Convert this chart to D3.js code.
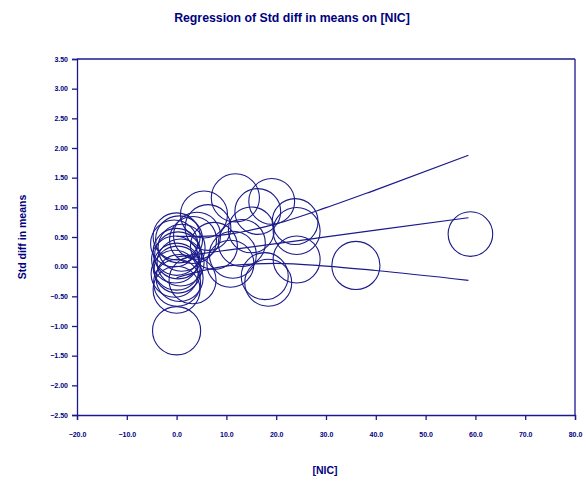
<!DOCTYPE html>
<html><head><meta charset="utf-8">
<script src="https://cdn.jsdelivr.net/npm/d3@7"></script>
<style>body{margin:0;background:#fff}svg{display:block}text{font-family:"Liberation Sans",Arial,sans-serif;font-weight:bold;fill:#000080}</style>
</head><body>
<script>
// studies: NIC (x), Std diff in means (y), relative weight
const nic    = [0, 0.5, -0.5, 1, 0, 0.3, -0.3, 0.8, 0, 0.2, -0.4, 0.6, 0.1, 0, 3.2, 4.1, 5.5, 6.3, 3.3, 0, 11.8, 19.1, 16.3, 13.1, 11.3, 10.8, 17.7, 18.4, 23.8, 24.1, 24.1, 36.0, 59.0, 15.0, 7.5];
const smd    = [0.51, 0.46, 0.39, 0.32, 0.25, 0.19, 0.12, 0.07, 0.00, -0.05, -0.12, -0.19, -0.27, -0.39, -0.23, 0.52, 0.88, 0.66, 0.45, -1.08, 1.16, 1.10, 0.93, 0.40, 0.20, 0.05, -0.16, -0.27, 0.76, 0.60, 0.12, 0.02, 0.55, 0.62, 0.35];
const weight = [1.0, 1.0, 1.0, 1.0, 1.0, 1.0, 1.0, 1.0, 1.0, 1.0, 1.0, 1.0, 1.0, 1.0, 1.0, 1.0, 1.0, 0.95, 1.0, 1.05, 1.05, 0.95, 0.95, 1.0, 1.0, 1.0, 1.0, 1.0, 0.95, 1.0, 1.0, 1.05, 0.9, 0.95, 1.0];
// regression line and 95% limits
const lineX  = [0, 5, 10.6, 20, 30, 40, 58.6];
const predY  = [0.163, 0.220, 0.283, 0.389, 0.502, 0.615, 0.825];
const upperY = [0.512, 0.511, 0.549, 0.722, 0.994, 1.295, 1.878];
const lowerY = [-0.186, -0.072, 0.017, 0.056, 0.010, -0.065, -0.230];
const xTicks = [-20, -10, 0, 10, 20, 30, 40, 50, 60, 70, 80];
const yTicks = [-2.5, -2.0, -1.5, -1.0, -0.5, 0, 0.5, 1.0, 1.5, 2.0, 2.5, 3.0, 3.5];

const W = 586, H = 482, L = 77, R = 575, T = 59, B = 415;
const col = "#1a1a8a";
const svg = d3.select("body").append("svg").attr("width", W).attr("height", H);
const x = d3.scaleLinear().domain([-20, 80]).range([L, R]);
const y = d3.scaleLinear().domain([-2.5, 3.5]).range([B, T]);
const r = d3.scaleSqrt().domain([0, 1]).range([0, 23.5]);

svg.append("text").attr("x", 292).attr("y", 22).attr("text-anchor", "middle")
  .style("font-size", "12.3px").text("Regression of Std diff in means on [NIC]");

const xa = svg.append("g").attr("transform", `translate(0,${B})`)
  .call(d3.axisBottom(x).tickValues(xTicks).tickFormat(d3.format(".1f")).tickSizeOuter(0).tickSize(5).tickPadding(15));
const ya = svg.append("g").attr("transform", `translate(${L},0)`)
  .call(d3.axisLeft(y).tickValues(yTicks).tickFormat(d3.format(".2f")).tickSizeOuter(0).tickSize(5).tickPadding(4));
[xa, ya].forEach(a => {
  a.select(".domain").attr("stroke", col).attr("stroke-width", 1.3);
  a.selectAll(".tick line").attr("stroke", col).attr("stroke-width", 1.3);
  a.selectAll(".tick text").style("font-size", "7px").attr("fill", "#000080").style("font-family", "'Liberation Sans',Arial,sans-serif").style("font-weight", "bold");
});
xa.selectAll(".tick text").attr("dy", "0.35em");
svg.append("line").attr("x1", L).attr("x2", R).attr("y1", T).attr("y2", T).attr("stroke", col).attr("stroke-width", 1.3);
svg.append("line").attr("x1", R).attr("x2", R).attr("y1", T).attr("y2", B).attr("stroke", col).attr("stroke-width", 1.3);

svg.append("text").attr("transform", `translate(26,${237}) rotate(-90)`).attr("text-anchor", "middle")
  .style("font-size", "10.5px").text("Std diff in means");
svg.append("text").attr("x", 325).attr("y", 474).attr("text-anchor", "middle")
  .style("font-size", "10.5px").text("[NIC]");

const studies = nic.map((d, i) => ({x: d, y: smd[i], w: weight[i]}));
svg.append("g").selectAll("circle").data(studies).join("circle")
  .attr("cx", d => x(d.x)).attr("cy", d => y(d.y)).attr("r", d => r(d.w))
  .attr("fill", "none").attr("stroke", col).attr("stroke-width", 1.1);

const line = d3.line().x(d => x(d[0])).y(d => y(d[1])).curve(d3.curveMonotoneX);
[predY, upperY, lowerY].forEach(ys => {
  svg.append("path").attr("d", line(lineX.map((v, i) => [v, ys[i]])))
    .attr("fill", "none").attr("stroke", col).attr("stroke-width", 1.2);
});
</script>
</body></html>
